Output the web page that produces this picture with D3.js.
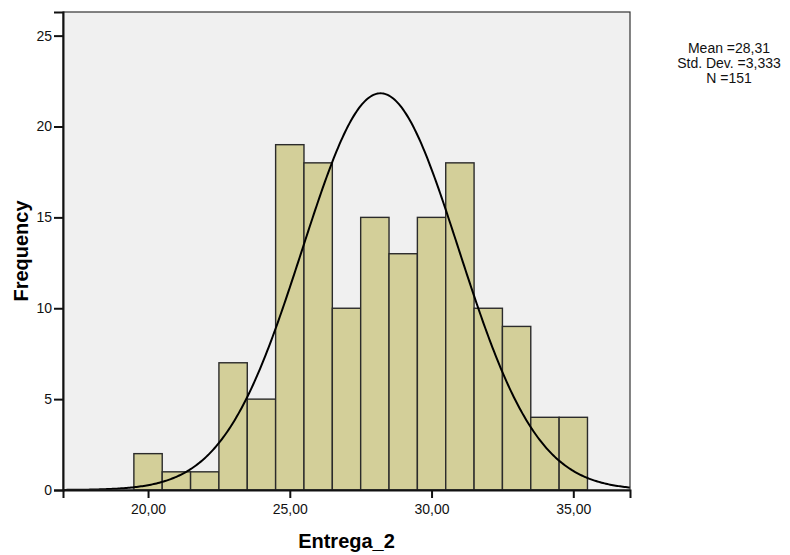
<!DOCTYPE html>
<html>
<head>
<meta charset="utf-8">
<script src="https://cdn.jsdelivr.net/npm/d3@7"></script>
<style>
  body { margin: 0; background: #fff; }
  text { font-family: "Liberation Sans", Arial, sans-serif; }
</style>
</head>
<body>
<div id="chart"></div>
<script>
// Histogram data
const binLower = [19.5, 20.5, 21.5, 22.5, 23.5, 24.5, 25.5, 26.5, 27.5, 28.5, 29.5, 30.5, 31.5, 32.5, 33.5, 34.5];
const binUpper = [20.5, 21.5, 22.5, 23.5, 24.5, 25.5, 26.5, 27.5, 28.5, 29.5, 30.5, 31.5, 32.5, 33.5, 34.5, 35.5];
const counts = [2, 1, 1, 7, 5, 19, 18, 10, 15, 13, 15, 18, 10, 9, 4, 4];
const xTicks = [20, 25, 30, 35];
const yTicks = [0, 5, 10, 15, 20, 25];
const statsLines = ["Mean =28,31", "Std. Dev. =3,333", "N =151"];

const curveMean = 28.2;
const curveSd = 2.76;
const curveN = 151;
const binWidth = 1;

const width = 790, height = 555;
const margin = { top: 12, right: 160, bottom: 65, left: 63 };
const innerWidth = width - margin.left - margin.right;
const innerHeight = height - margin.top - margin.bottom;

const svg = d3.select("#chart")
    .append("svg")
    .attr("width", width)
    .attr("height", height);

const g = svg.append("g")
    .attr("transform", `translate(${margin.left},${margin.top})`);

const x = d3.scaleLinear().domain([17, 37]).range([0, innerWidth]);
const y = d3.scaleLinear().domain([0, 26.3]).range([innerHeight, 0]);

// Plot background
g.append("rect")
    .attr("width", innerWidth)
    .attr("height", innerHeight)
    .attr("fill", "#f0f0f0");

// Bars
g.selectAll(".bar")
    .data(counts)
    .enter()
    .append("rect")
    .attr("class", "bar")
    .attr("x", (d, i) => x(binLower[i]))
    .attr("width", (d, i) => x(binUpper[i]) - x(binLower[i]))
    .attr("y", d => y(d))
    .attr("height", d => y(0) - y(d))
    .attr("fill", "#d3cf99")
    .attr("stroke", "#2b2b2b")
    .attr("stroke-width", 1.4);

// Normal curve
const normal = v => curveN * binWidth / (curveSd * Math.sqrt(2 * Math.PI)) *
    Math.exp(-0.5 * Math.pow((v - curveMean) / curveSd, 2));
const curvePts = d3.range(17, 37.001, 0.05).map(v => [v, normal(v)]);

g.append("path")
    .datum(curvePts)
    .attr("fill", "none")
    .attr("stroke", "#000")
    .attr("stroke-width", 2)
    .attr("d", d3.line().x(d => x(d[0])).y(d => y(d[1])));

// Plot border
g.append("rect")
    .attr("width", innerWidth)
    .attr("height", innerHeight)
    .attr("fill", "none")
    .attr("stroke", "#333")
    .attr("stroke-width", 1.2);

// Axes
const xAxis = g.append("g")
    .attr("transform", `translate(0,${innerHeight})`)
    .call(d3.axisBottom(x).tickValues(xTicks).tickSize(8).tickPadding(6)
        .tickFormat(d => d3.format(".2f")(d).replace(".", ",")));

const yAxis = g.append("g")
    .call(d3.axisLeft(y).tickValues(yTicks).tickSize(9).tickPadding(2));

[xAxis, yAxis].forEach(ax => {
    ax.select(".domain").attr("stroke", "#111").attr("stroke-width", 2);
    ax.selectAll(".tick line").attr("stroke", "#111").attr("stroke-width", 2);
    ax.selectAll(".tick text")
        .style("font-size", "14px")
        .attr("fill", "#111")
        .style("font-family", "'Liberation Sans', Arial, sans-serif");
});

// Axis titles
svg.append("text")
    .attr("x", margin.left + innerWidth / 2)
    .attr("y", 548)
    .attr("text-anchor", "middle")
    .style("font-size", "20px")
    .style("font-weight", "bold")
    .text("Entrega_2");

svg.append("text")
    .attr("transform", `translate(28,${margin.top + innerHeight / 2}) rotate(-90)`)
    .attr("text-anchor", "middle")
    .style("font-size", "20px")
    .style("font-weight", "bold")
    .text("Frequency");

// Stats box text
svg.append("g")
    .selectAll("text")
    .data(statsLines)
    .enter()
    .append("text")
    .attr("x", 729)
    .attr("y", (d, i) => 53 + i * 15)
    .attr("text-anchor", "middle")
    .style("font-size", "14px")
    .attr("fill", "#111")
    .text(d => d);
</script>
</body>
</html>
